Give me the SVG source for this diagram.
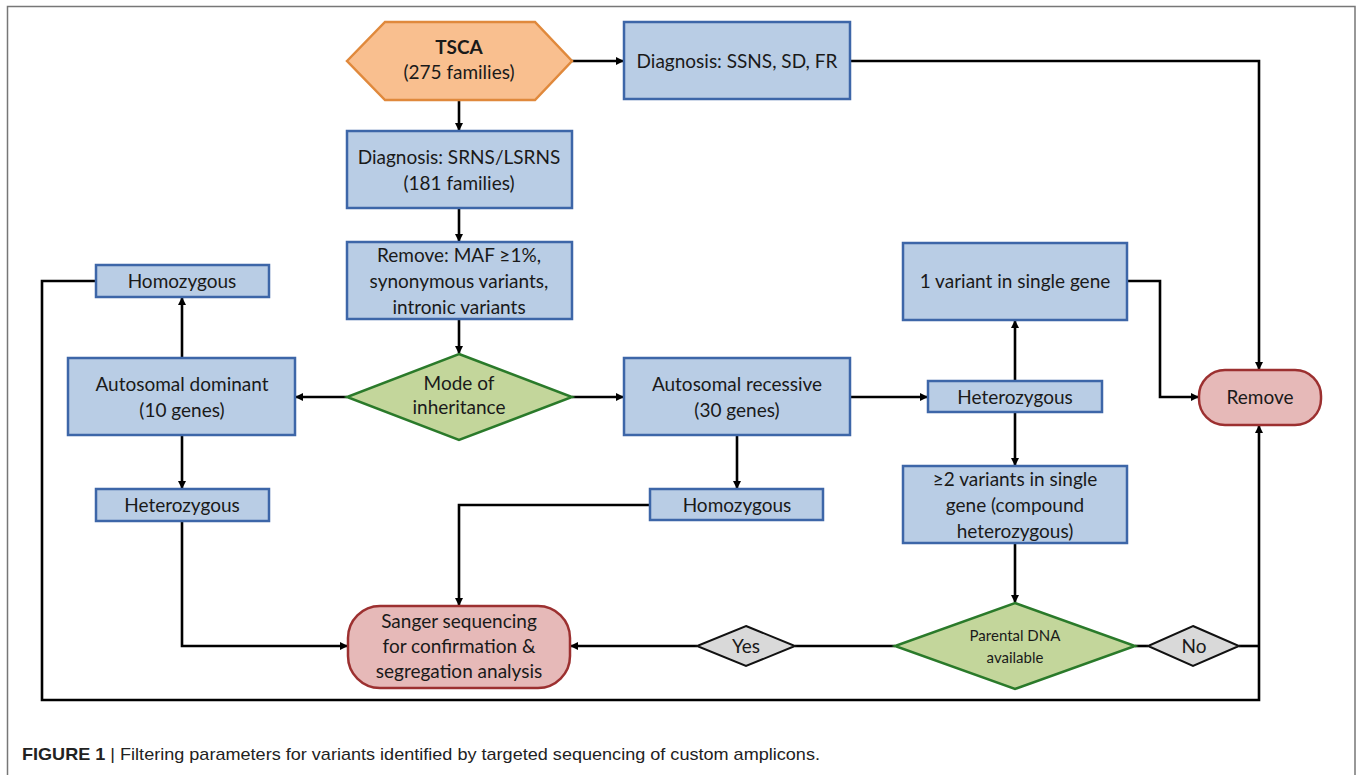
<svg xmlns="http://www.w3.org/2000/svg" width="1358" height="775" viewBox="0 0 1358 775">
<style>
.box{fill:#B9CDE5;stroke:#3D66A8;stroke-width:2.5}
.dia{fill:#C3D69B;stroke:#2A7A2A;stroke-width:2.5}
.yn{fill:#D9D9D9;stroke:#111;stroke-width:2}
.term{fill:#E6B9B8;stroke:#9C3030;stroke-width:2.5}
.hex{fill:#F9BF8F;stroke:#E0893C;stroke-width:2.5}
.t{font-family:Lato,"Open Sans","Liberation Sans",sans-serif;font-size:19px;fill:#1a1a1a;text-anchor:middle}
.c{fill:none;stroke:#000;stroke-width:2.6}
.a{marker-end:url(#arr)}
</style>
<defs>
<marker id="arr" markerWidth="8" markerHeight="8" refX="7" refY="4" orient="auto" markerUnits="userSpaceOnUse">
<path d="M0,0 L8,4 L0,8 z" fill="#000"/>
</marker>
</defs>
<rect width="1358" height="775" fill="#fff"/>
<path d="M7.5,780 V6.5 H1355 V780" fill="none" stroke="#777" stroke-width="1.5"/>

<g id="connectors">
<path class="c a" d="M572,61 H623"/>
<path class="c a" d="M850,61 H1259 V369"/>
<path class="c a" d="M459,100 V130"/>
<path class="c a" d="M459,208 V241"/>
<path class="c a" d="M459,319 V353"/>
<path class="c a" d="M347,397 H296"/>
<path class="c a" d="M572,397 H623"/>
<path class="c a" d="M182,358 V298"/>
<path class="c a" d="M182,435 V488"/>
<path class="c a" d="M96,281 H42 V700 H1259 V426"/>
<path class="c a" d="M182,521 V646 H347"/>
<path class="c a" d="M850,397 H927"/>
<path class="c a" d="M737,435 V488"/>
<path class="c a" d="M650,505 H459 V605"/>
<path class="c a" d="M1015,381 V321"/>
<path class="c a" d="M1127,281 H1160 V397 H1198"/>
<path class="c a" d="M1015,412 V465"/>
<path class="c a" d="M1015,543 V602"/>
<path class="c" d="M895,646 H795"/>
<path class="c a" d="M697,646 H571"/>
<path class="c" d="M1135,646 H1148"/>
<path class="c" d="M1239,646 H1259"/>
</g>

<g id="tsca">
<polygon class="hex" points="347,61 385,22 535,22 572,61 535,100 385,100"/>
<text class="t" x="459" y="54" font-weight="bold">TSCA</text>
<text class="t" x="459" y="79">(275 families)</text>
</g>
<g id="ssns">
<rect class="box" x="624" y="22" width="226" height="77"/>
<text class="t" x="737" y="68">Diagnosis: SSNS, SD, FR</text>
</g>
<g id="srns">
<rect class="box" x="347" y="131" width="225" height="77"/>
<text class="t" x="459" y="164">Diagnosis: SRNS/LSRNS</text>
<text class="t" x="459" y="190">(181 families)</text>
</g>
<g id="maf">
<rect class="box" x="347" y="242" width="225" height="77"/>
<text class="t" x="459" y="262">Remove: MAF ≥1%,</text>
<text class="t" x="459" y="288">synonymous variants,</text>
<text class="t" x="459" y="314">intronic variants</text>
</g>
<g id="mode">
<polygon class="dia" points="459,354 572,397 459,440 347,397"/>
<text class="t" x="459" y="390">Mode of</text>
<text class="t" x="459" y="414">inheritance</text>
</g>
<g id="ad">
<rect class="box" x="68" y="358" width="227" height="77"/>
<text class="t" x="182" y="391">Autosomal dominant</text>
<text class="t" x="182" y="417">(10 genes)</text>
</g>
<g id="homo-left">
<rect class="box" x="96" y="265" width="173" height="32"/>
<text class="t" x="182" y="288">Homozygous</text>
</g>
<g id="het-left">
<rect class="box" x="96" y="489" width="173" height="32"/>
<text class="t" x="182" y="512">Heterozygous</text>
</g>
<g id="ar">
<rect class="box" x="624" y="358" width="226" height="77"/>
<text class="t" x="737" y="391">Autosomal recessive</text>
<text class="t" x="737" y="417">(30 genes)</text>
</g>
<g id="homo-right">
<rect class="box" x="650" y="489" width="173" height="31"/>
<text class="t" x="737" y="512">Homozygous</text>
</g>
<g id="het-right">
<rect class="box" x="928" y="381" width="174" height="31"/>
<text class="t" x="1015" y="404">Heterozygous</text>
</g>
<g id="one-variant">
<rect class="box" x="903" y="243" width="224" height="77"/>
<text class="t" x="1015" y="288">1 variant in single gene</text>
</g>
<g id="two-variants">
<rect class="box" x="903" y="466" width="224" height="77"/>
<text class="t" x="1015" y="486">≥2 variants in single</text>
<text class="t" x="1015" y="512">gene (compound</text>
<text class="t" x="1015" y="538">heterozygous)</text>
</g>
<g id="remove">
<rect class="term" x="1199" y="370" width="122" height="55" rx="26"/>
<text class="t" x="1260" y="404">Remove</text>
</g>
<g id="parental">
<polygon class="dia" points="1015,603 1135,646 1015,689 895,646"/>
<text class="t" x="1015" y="641" style="font-size:15px">Parental DNA</text>
<text class="t" x="1015" y="663" style="font-size:15px">available</text>
</g>
<g id="yes">
<polygon class="yn" points="746,626 795,646 746,666 697,646"/>
<text class="t" x="746" y="653">Yes</text>
</g>
<g id="no">
<polygon class="yn" points="1193,626 1239,646 1193,666 1148,646"/>
<text class="t" x="1194" y="653">No</text>
</g>
<g id="sanger">
<rect class="term" x="348" y="606" width="222" height="82" rx="32"/>
<text class="t" x="459" y="628">Sanger sequencing</text>
<text class="t" x="459" y="653">for confirmation &amp;</text>
<text class="t" x="459" y="678">segregation analysis</text>
</g>
<text x="22" y="760" font-family="Liberation Sans,Arial,sans-serif" font-size="17" fill="#222" textLength="798" lengthAdjust="spacingAndGlyphs"><tspan font-weight="bold">FIGURE 1</tspan> | Filtering parameters for variants identified by targeted sequencing of custom amplicons.</text>
</svg>
